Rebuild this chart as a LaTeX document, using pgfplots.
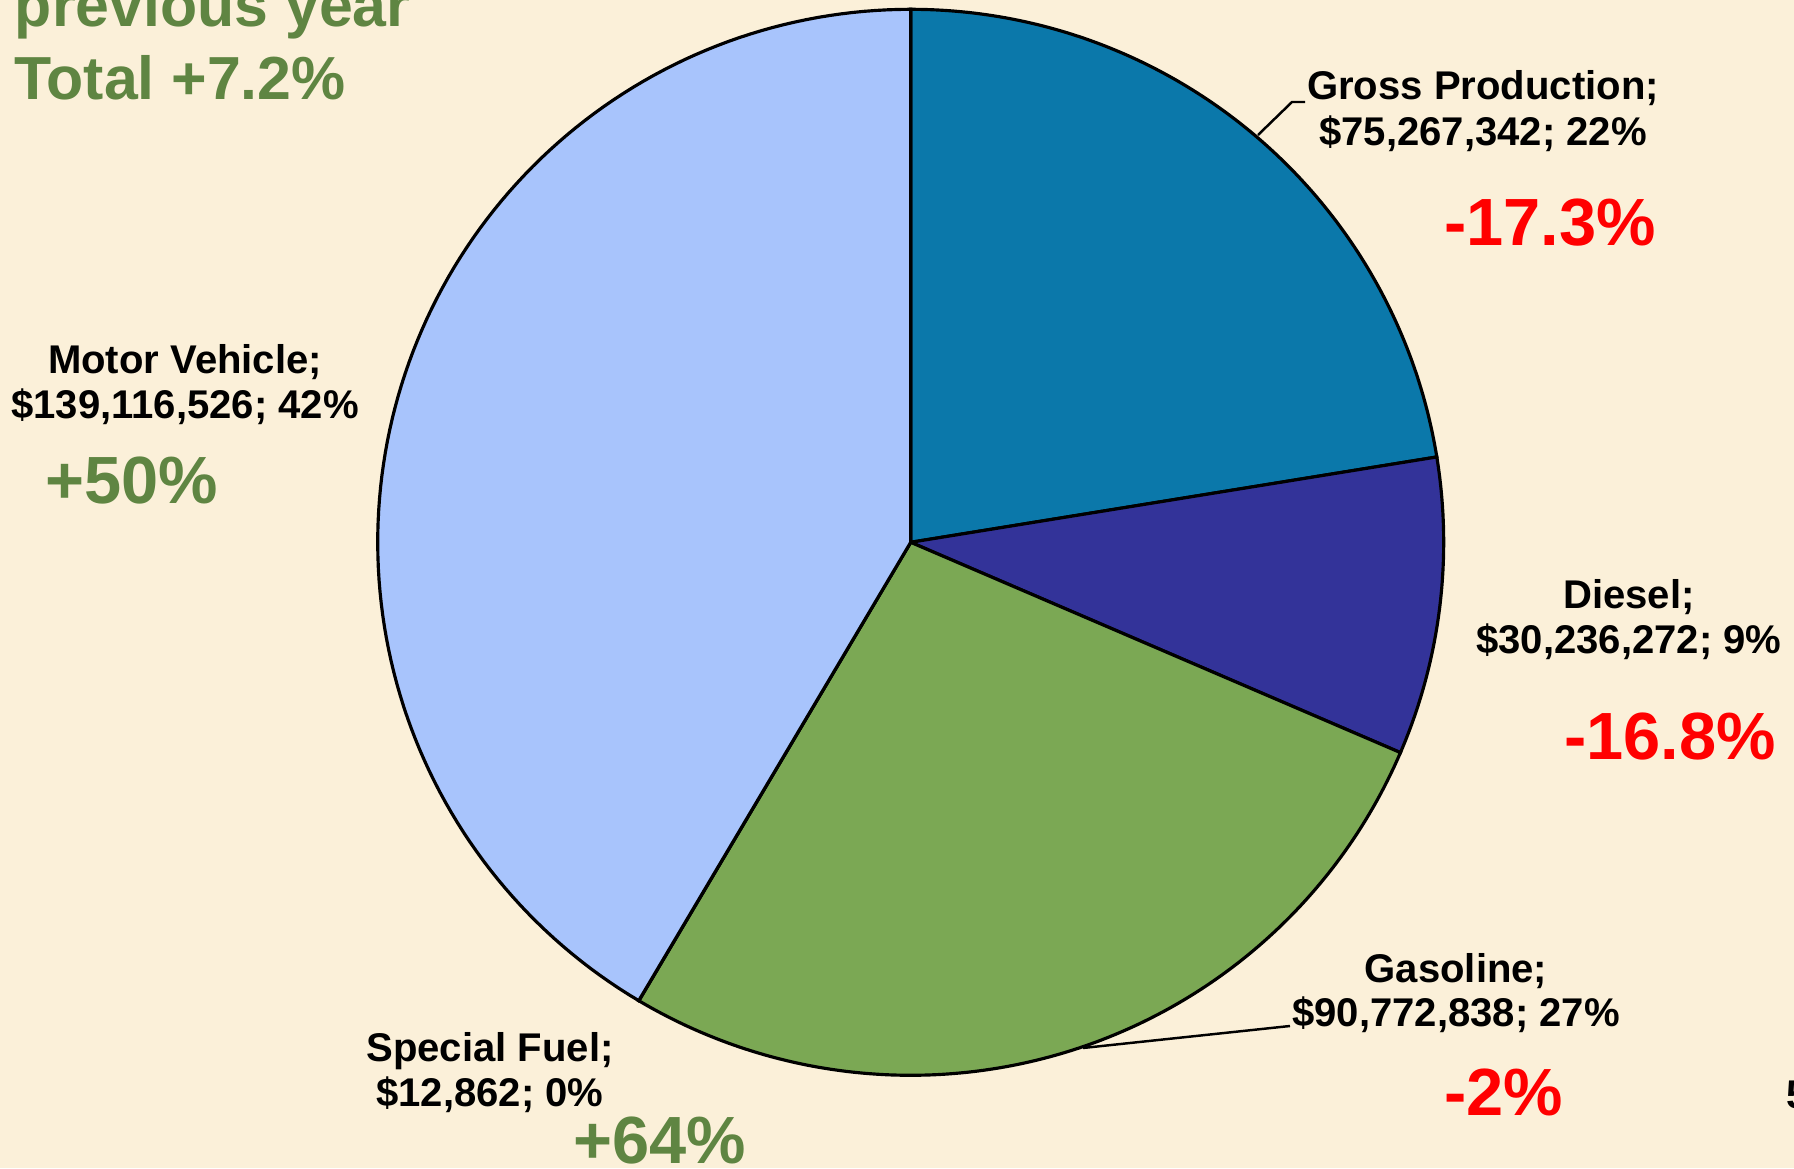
\documentclass[border=0pt]{standalone}
\usepackage{pgfplots}
\usepackage{pgfplotstable}
\pgfplotsset{compat=1.18}
\usepackage{fontspec}
\setmainfont{Liberation Sans}
\definecolor{bgcol}{RGB}{251,240,217}
\definecolor{gpcol}{RGB}{11,120,170}
\definecolor{dcol}{RGB}{51,51,153}
\definecolor{gcol}{RGB}{123,168,84}
\definecolor{mvcol}{RGB}{168,196,252}
\definecolor{txtgreen}{RGB}{95,133,66}
\pgfplotstableread{
name value
GrossProduction 75267342
Diesel 30236272
Gasoline 90772838
SpecialFuel 12862
MotorVehicle 139116526
}\pietable
\pgfplotstablegetelem{0}{value}\of\pietable \let\vA\pgfplotsretval
\pgfplotstablegetelem{1}{value}\of\pietable \let\vB\pgfplotsretval
\pgfplotstablegetelem{2}{value}\of\pietable \let\vC\pgfplotsretval
\pgfplotstablegetelem{3}{value}\of\pietable \let\vD\pgfplotsretval
\pgfplotstablegetelem{4}{value}\of\pietable \let\vE\pgfplotsretval
\begingroup
\pgfkeys{/pgf/fpu=true,/pgf/fpu/output format=fixed}
\pgfmathsetmacro\tot{\vA+\vB+\vC+\vD+\vE}
\pgfmathsetmacro\aA{90-360*\vA/\tot}
\pgfmathsetmacro\aB{\aA-360*\vB/\tot}
\pgfmathsetmacro\aC{\aB-360*\vC/\tot}
\pgfmathsetmacro\aD{\aC-360*\vD/\tot}
\xdef\aA{\aA}\xdef\aB{\aB}\xdef\aC{\aC}\xdef\aD{\aD}
\endgroup
\newcommand\lab{\fontsize{11.4}{13}\selectfont\bfseries}
\newcommand\bigtxt{\fontsize{19}{22}\selectfont\bfseries}
\newcommand\ttl{\fontsize{17.3}{20}\selectfont\bfseries}
\begin{document}
\begin{tikzpicture}
\useasboundingbox (0,0) rectangle (17.94,11.68);
\clip (0,0) rectangle (17.94,11.68);
\fill[bgcol] (0,0) rectangle (17.94,11.68);
\begin{axis}[at={(9.107cm,6.257cm)}, anchor=origin,
  x=1cm, y=1cm, xmin=-9.107, xmax=8.833, ymin=-6.257, ymax=5.423,
  hide axis, clip=false, samples=120, variable=\t]
\addplot[fill=gpcol, draw=black, line width=0.9pt, domain=\aA:90] ({5.33*cos(\t)},{5.33*sin(\t)}) -- (axis cs:0,0) -- cycle;
\addplot[fill=dcol, draw=black, line width=0.9pt, domain=\aB:\aA] ({5.33*cos(\t)},{5.33*sin(\t)}) -- (axis cs:0,0) -- cycle;
\addplot[fill=gcol, draw=black, line width=0.9pt, domain=\aC:\aB] ({5.33*cos(\t)},{5.33*sin(\t)}) -- (axis cs:0,0) -- cycle;
\addplot[fill=gcol, draw=black, line width=0.9pt, samples=2, domain=\aD:\aC] ({5.33*cos(\t)},{5.33*sin(\t)}) -- (axis cs:0,0) -- cycle;
\addplot[fill=mvcol, draw=black, line width=0.9pt, domain=-270:\aD] ({5.33*cos(\t)},{5.33*sin(\t)}) -- (axis cs:0,0) -- cycle;
\end{axis}
\begin{scope}[every node/.style={inner sep=0pt, outer sep=0pt}]
% leader lines
\draw[line width=0.7pt] (12.58,10.33) -- (12.92,10.66) -- (13.05,10.66);
\draw[line width=0.7pt] (10.83,1.20) -- (12.90,1.42);
% title
\node[anchor=base west, text=txtgreen] at (0.15,11.41) {\ttl previous year};
\node[anchor=base west, text=txtgreen] at (0.14,10.68) {\ttl Total +7.2\%};
% Gross Production
\node[anchor=base] at (14.83,10.685) {\lab Gross Production;};
\node[anchor=base] at (14.83,10.227) {\lab \$75,267,342; 22\%};
\node[anchor=base, text=red] at (15.50,9.22) {\bigtxt -17.3\%};
% Diesel
\node[anchor=base] at (16.29,5.59) {\lab Diesel;};
\node[anchor=base] at (16.29,5.14) {\lab \$30,236,272; 9\%};
\node[anchor=base, text=red] at (16.70,4.08) {\bigtxt -16.8\%};
% Gasoline
\node[anchor=base] at (14.56,1.86) {\lab Gasoline;};
\node[anchor=base] at (14.56,1.42) {\lab \$90,772,838; 27\%};
\node[anchor=base, text=red] at (15.04,0.53) {\bigtxt -2\%};
% Special Fuel
\node[anchor=base] at (4.90,1.06) {\lab Special Fuel;};
\node[anchor=base] at (4.90,0.61) {\lab \$12,862; 0\%};
\node[anchor=base, text=txtgreen] at (6.60,0.05) {\bigtxt +64\%};
% Motor Vehicle
\node[anchor=base] at (1.85,7.94) {\lab Motor Vehicle;};
\node[anchor=base] at (1.85,7.49) {\lab \$139,116,526; 42\%};
\node[anchor=base, text=txtgreen] at (1.32,6.65) {\bigtxt +50\%};
% page number fragment
\node[anchor=base west] at (17.86,0.60) {\lab 5};
\end{scope}
\end{tikzpicture}
\end{document}
